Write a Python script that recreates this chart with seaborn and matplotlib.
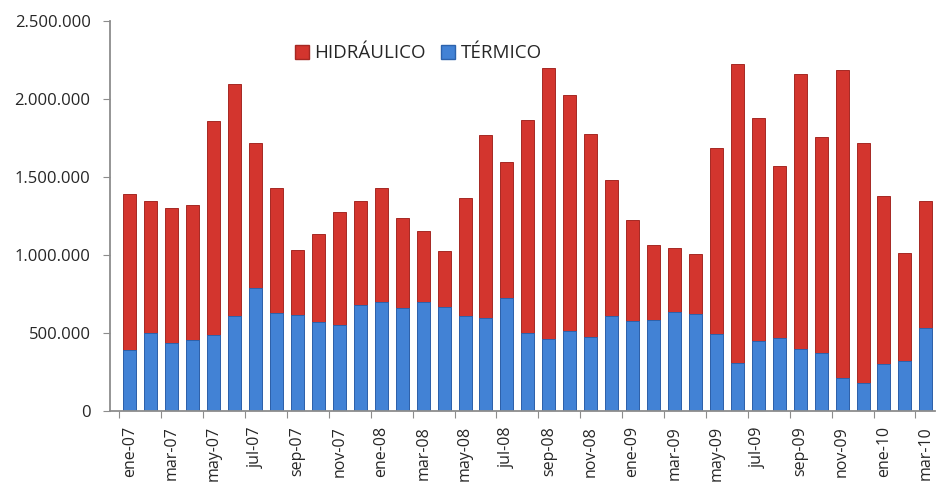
import matplotlib
matplotlib.use("Agg")
import matplotlib.pyplot as plt
import matplotlib.ticker as mticker
from matplotlib.patches import Patch
import seaborn as sns
import pandas as pd

meses = ["ene", "feb", "mar", "abr", "may", "jun", "jul", "ago", "sep", "oct", "nov", "dic"]
periodos = [f"{m}-{a:02d}" for a in (7, 8, 9) for m in meses] + ["ene-10", "feb-10", "mar-10"]

termico = [390, 500, 435, 455, 487, 609, 788, 628, 615, 570, 551, 679,
           699, 660, 699, 667, 609, 596, 724, 500, 461, 513, 474, 609,
           577, 583, 635, 622, 494, 308, 449, 468, 397, 372, 212, 180,
           301, 320, 532]
hidraulico = [1000, 850, 865, 865, 1373, 1491, 932, 802, 420, 565, 729, 671,
              731, 580, 456, 363, 761, 1174, 876, 1370, 1739, 1517, 1306, 871,
              648, 482, 410, 383, 1196, 1917, 1431, 1102, 1763, 1388, 1978, 1540,
              1079, 695, 818]

df = pd.DataFrame({
    "periodo": periodos,
    "termico": [v * 1000 for v in termico],
    "hidraulico": [v * 1000 for v in hidraulico],
})
df["total"] = df["termico"] + df["hidraulico"]

rojo = "#D3352E"
azul = "#4282D5"
gris = "#8C8C8C"

sns.set_style("white")
plt.rcParams["font.family"] = ["Open Sans", "DejaVu Sans"]

fig = plt.figure(figsize=(9.4, 4.87), dpi=100)
ax = fig.add_axes([0.117, 0.156, 0.878, 0.80])

sns.barplot(data=df, x="periodo", y="total", color=rojo, width=0.62,
            saturation=1, ax=ax, edgecolor="#A52823", linewidth=0.7)
sns.barplot(data=df, x="periodo", y="termico", color=azul, width=0.62,
            saturation=1, ax=ax, edgecolor="#2C62AC", linewidth=0.7)

ax.set_ylim(0, 2500000)
ax.set_xlim(-0.95, len(periodos) - 0.55)
ax.yaxis.set_major_locator(mticker.MultipleLocator(500000))
ax.yaxis.set_major_formatter(mticker.FuncFormatter(lambda v, p: f"{int(v):,}".replace(",", ".")))

# etiquetas cada dos meses, marcas entre categorías
pos = list(range(0, len(periodos), 2))
ax.set_xticks([i - 0.5 for i in pos])
ax.set_xticklabels([])
ax.set_xticks(pos, minor=True)
ax.set_xticklabels([periodos[i] for i in pos], minor=True, rotation=90, fontsize=11.5)
ax.tick_params(axis="x", which="major", length=5, color=gris, direction="out", bottom=True)
ax.tick_params(axis="x", which="minor", length=0, pad=11, bottom=True)
ax.tick_params(axis="y", labelsize=12, length=5, color=gris, direction="out", left=True, pad=9)

for s in ["top", "right"]:
    ax.spines[s].set_visible(False)
for s in ["left", "bottom"]:
    ax.spines[s].set_color(gris)
    ax.spines[s].set_linewidth(1.3)

ax.set_xlabel("")
ax.set_ylabel("")

handles = [Patch(facecolor=rojo, edgecolor="#A52823", label="HIDRÁULICO"),
           Patch(facecolor=azul, edgecolor="#2C62AC", label="TÉRMICO")]
ax.legend(handles=handles, loc="center left", bbox_to_anchor=(0.215, 0.918), ncol=2,
          frameon=False, fontsize=13.5, handlelength=0.75, handleheight=0.75,
          handletextpad=0.3, columnspacing=0.8, borderaxespad=0)

fig.savefig("out.png", dpi=100)
